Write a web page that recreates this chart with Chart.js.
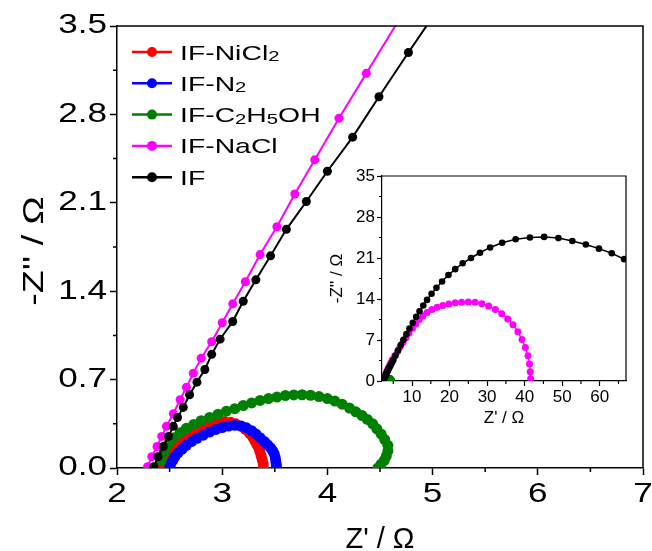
<!DOCTYPE html>
<html>
<head>
<meta charset="utf-8">
<title>Nyquist plot</title>
<script src="https://cdn.jsdelivr.net/npm/chart.js@4.4.1/dist/chart.umd.min.js"></script>
<style>
  html, body { margin: 0; padding: 0; background: #fff; }
  #wrap { position: relative; width: 652px; height: 551px; }
  #main { position: absolute; left: 0; top: 0; }
  #inset { position: absolute; left: 300px; top: 150px; }
</style>
</head>
<body>
<div id="wrap">
  <canvas id="main" width="652" height="551"></canvas>
  <canvas id="inset" width="340" height="290"></canvas>
</div>
<script>
const FONT = "'Liberation Sans', Arial, sans-serif";

// series names (_n = subscript) and colours, in legend order
const seriesNames = ['IF-NiCl_2', 'IF-N_2', 'IF-C_2H_5OH', 'IF-NaCl', 'IF'];
const seriesColors = ['#ff0000', '#0000ff', '#008000', '#ff00ff', '#000000'];

// IF-NiCl2
const nicl2X = [2.40, 2.41, 2.43, 2.46, 2.49, 2.53, 2.57, 2.62, 2.67, 2.72, 2.78, 2.84, 2.90, 2.96, 3.02, 3.08, 3.13, 3.18, 3.22, 3.26, 3.29, 3.31, 3.33, 3.35, 3.36, 3.37, 3.38, 3.39, 3.39];
const nicl2Y = [0.00, 0.03, 0.07, 0.11, 0.15, 0.18, 0.21, 0.24, 0.27, 0.295, 0.32, 0.34, 0.355, 0.365, 0.368, 0.363, 0.35, 0.33, 0.305, 0.275, 0.245, 0.215, 0.185, 0.155, 0.125, 0.095, 0.065, 0.035, 0.005];

// IF-N2
const n2X = [2.50, 2.51, 2.53, 2.55, 2.58, 2.62, 2.66, 2.71, 2.76, 2.82, 2.88, 2.94, 3.00, 3.06, 3.12, 3.18, 3.23, 3.28, 3.32, 3.36, 3.40, 3.43, 3.46, 3.48, 3.495, 3.505, 3.51, 3.515, 3.515];
const n2Y = [0.00, 0.03, 0.06, 0.09, 0.12, 0.15, 0.18, 0.21, 0.235, 0.26, 0.285, 0.305, 0.32, 0.332, 0.338, 0.333, 0.318, 0.295, 0.27, 0.24, 0.21, 0.185, 0.16, 0.135, 0.11, 0.08, 0.05, 0.025, 0.0];

// IF-C2H5OH
const c2h5ohX = [2.42, 2.45, 2.49, 2.54, 2.60, 2.66, 2.73, 2.80, 2.88, 2.96, 3.04, 3.12, 3.20, 3.28, 3.36, 3.44, 3.52, 3.60, 3.68, 3.76, 3.84, 3.92, 4.00, 4.07, 4.14, 4.21, 4.27, 4.33, 4.38, 4.43, 4.47, 4.51, 4.545, 4.575, 4.575, 4.56, 4.54, 4.51, 4.48];
const c2h5ohY = [0.06, 0.13, 0.19, 0.24, 0.28, 0.315, 0.345, 0.375, 0.40, 0.425, 0.45, 0.47, 0.495, 0.515, 0.535, 0.55, 0.562, 0.574, 0.579, 0.58, 0.576, 0.566, 0.55, 0.53, 0.505, 0.475, 0.445, 0.415, 0.385, 0.35, 0.31, 0.27, 0.225, 0.18, 0.135, 0.095, 0.06, 0.03, 0.0];

// IF-NaCl
const naclX = [2.29, 2.33, 2.38, 2.425, 2.47, 2.535, 2.60, 2.66, 2.725, 2.80, 2.90, 3.00, 3.10, 3.22, 3.36, 3.52, 3.69, 3.88, 4.11, 4.37, 4.74,
  5.4, 6.1, 6.8, 7.6, 8.4, 9.2, 10.1, 11.0, 11.9, 12.9, 14.0, 15.3, 16.7, 18.2, 19.8, 21.5, 23.2, 25.0, 26.8, 28.6, 30.4, 32.2, 33.9, 35.5, 36.9, 38.2, 39.3, 40.2, 40.9, 41.3, 41.5, 41.6];
const naclY = [0.01, 0.09, 0.17, 0.25, 0.33, 0.43, 0.54, 0.64, 0.75, 0.87, 1.00, 1.15, 1.30, 1.475, 1.69, 1.91, 2.17, 2.44, 2.77, 3.125, 3.63,
  4.3, 5.0, 5.8, 6.6, 7.4, 8.2, 9.0, 9.75, 10.5, 11.1, 11.7, 12.2, 12.6, 12.9, 13.15, 13.35, 13.45, 13.5, 13.45, 13.2, 12.8, 12.2, 11.5, 10.6, 9.6, 8.4, 7.1, 5.7, 4.3, 2.9, 1.6, 0.4];

// IF
const ifX = [2.35, 2.39, 2.44, 2.49, 2.535, 2.575, 2.63, 2.69, 2.76, 2.835, 2.90, 2.98, 3.10, 3.20, 3.32, 3.46, 3.61, 3.80, 4.00, 4.24, 4.49, 4.77, 5.04,
  5.6, 6.3, 7.0, 7.7, 8.5, 9.3, 10.2, 11.1, 12.0, 13.0, 14.0, 15.2, 16.5, 18.0, 19.7, 21.5, 23.5, 25.7, 28.1, 30.8, 34.0, 37.6, 41.4, 45.2, 49.0, 52.7, 56.3, 59.8, 63.2, 66.5, 69.8];
const ifY = [0.01, 0.09, 0.17, 0.25, 0.33, 0.40, 0.48, 0.58, 0.68, 0.78, 0.90, 1.02, 1.16, 1.32, 1.49, 1.68, 1.89, 2.11, 2.35, 2.62, 2.94, 3.29, 3.62,
  4.35, 5.25, 6.15, 7.05, 8.0, 8.95, 9.95, 10.95, 11.9, 12.9, 13.85, 14.9, 15.9, 17.0, 18.1, 19.1, 20.1, 21.0, 21.9, 22.8, 23.6, 24.2, 24.5, 24.6, 24.4, 23.9, 23.3, 22.6, 21.8, 20.8, 19.7];

// tick labels
const mainXTicks = [2, 3, 4, 5, 6, 7];
const mainXMinor = [2.5, 3.5, 4.5, 5.5, 6.5];
const mainYTicks = [0, 0.7, 1.4, 2.1, 2.8, 3.5];
const mainYMinor = [0.35, 1.05, 1.75, 2.45, 3.15];
const insetXTicks = [10, 20, 30, 40, 50, 60];
const insetXMinor = [5, 15, 25, 35, 45, 55, 65];
const insetYTicks = [0, 7, 14, 21, 28, 35];
const insetYMinor = [3.5, 10.5, 17.5, 24.5, 31.5];

const series = [
  { x: nicl2X, y: nicl2Y },
  { x: n2X, y: n2Y },
  { x: c2h5ohX, y: c2h5ohY },
  { x: naclX, y: naclY },
  { x: ifX, y: ifY }
];

function toPoints(xs, ys) {
  return xs.map((x, i) => ({ x: x, y: ys[i] }));
}

function makeDatasets(radii, lineWidth) {
  const sets = series.map((s, i) => ({
    label: seriesNames[i].replace(/_/g, ''),
    data: toPoints(s.x, s.y),
    borderColor: seriesColors[i],
    backgroundColor: seriesColors[i],
    pointBackgroundColor: seriesColors[i],
    pointBorderColor: seriesColors[i],
    pointBorderWidth: 0,
    pointRadius: radii[i],
    pointHoverRadius: radii[i],
    borderWidth: lineWidth,
    tension: 0,
    clip: 0
  }));
  // Chart.js paints the first dataset last, so reverse to keep "IF" on top
  return sets.reverse();
}

function axis(o) {
  return {
    type: 'linear',
    position: o.position,
    min: o.min,
    max: o.max,
    afterBuildTicks: s => { s.ticks = o.ticks.map(v => ({ value: v })); },
    afterFit: s => {
      if (o.position === 'left') s.width = o.size;
      else s.height = o.size;
    },
    border: { display: true, color: '#000', width: o.lw },
    grid: { drawOnChartArea: false, drawTicks: true, tickLength: o.tickLen, tickWidth: o.lw, tickColor: '#000' },
    ticks: {
      display: o.showLabels,
      color: '#000',
      font: { family: FONT, size: o.fontSize },
      padding: o.pad,
      maxRotation: 0,
      autoSkip: false,
      callback: v => o.fmt(v)
    },
    title: {
      display: !!o.title,
      text: o.title,
      color: '#000',
      font: { family: FONT, size: o.titleSize, lineHeight: 1 },
      padding: o.titlePad
    }
  };
}

// text drawn a little wider than the font, like the original figure
function drawStretched(ctx, txt, x, y, sx, align, rot) {
  ctx.save();
  ctx.translate(x, y);
  if (rot) ctx.rotate(rot);
  ctx.scale(sx, 1);
  ctx.textAlign = align;
  ctx.fillText(txt, 0, 0);
  ctx.restore();
}

// box around the plot + short minor ticks
const framePlugin = {
  id: 'frame',
  afterDraw(chart, args, o) {
    const { ctx, chartArea: a, scales: { x, y } } = chart;
    ctx.save();
    ctx.strokeStyle = '#000';
    ctx.lineWidth = o.lineWidth;
    ctx.beginPath();
    ctx.moveTo(a.left, a.top);
    ctx.lineTo(a.right, a.top);
    ctx.lineTo(a.right, a.bottom);
    o.xMinor.forEach(v => {
      const px = x.getPixelForValue(v);
      ctx.moveTo(px, a.bottom);
      ctx.lineTo(px, a.bottom + o.minorLen);
    });
    o.yMinor.forEach(v => {
      const py = y.getPixelForValue(v);
      ctx.moveTo(a.left, py);
      ctx.lineTo(a.left - o.minorLen, py);
    });
    ctx.stroke();
    ctx.restore();
  }
};

// main-axis tick labels and y title, stretched horizontally
const labelPlugin = {
  id: 'wideLabels',
  afterDraw(chart, args, o) {
    const { ctx, chartArea: a, scales: { x, y } } = chart;
    ctx.save();
    ctx.fillStyle = '#000';
    ctx.textBaseline = 'middle';
    ctx.font = o.fontSize + 'px ' + FONT;
    mainXTicks.forEach(v => drawStretched(ctx, String(v), x.getPixelForValue(v), a.bottom + o.xOffset, o.sx, 'center', 0));
    mainYTicks.forEach(v => drawStretched(ctx, v.toFixed(1), a.left - o.yOffset, y.getPixelForValue(v), o.sx, 'right', 0));
    ctx.font = o.titleSize + 'px ' + FONT;
    drawStretched(ctx, o.yTitle, o.yTitleX, o.yTitleY, o.sx, 'center', -Math.PI / 2);
    ctx.restore();
  }
};

// legend inside the plot, with chemical subscripts
const legendPlugin = {
  id: 'richLegend',
  afterDraw(chart, args, o) {
    const ctx = chart.ctx;
    ctx.save();
    seriesNames.forEach((name, i) => {
      const y = o.top + i * o.gap;
      ctx.strokeStyle = seriesColors[i];
      ctx.lineWidth = 2.5;
      ctx.beginPath();
      ctx.moveTo(o.left, y);
      ctx.lineTo(o.left + o.lineLen, y);
      ctx.stroke();
      ctx.fillStyle = seriesColors[i];
      ctx.beginPath();
      ctx.arc(o.left + o.lineLen / 2, y, o.dot, 0, Math.PI * 2);
      ctx.fill();

      let tx = o.left + o.lineLen + o.textGap;
      const base = y + o.fontSize * 0.36;
      ctx.fillStyle = '#000';
      ctx.textBaseline = 'alphabetic';
      name.split(/(_\d)/).forEach(part => {
        if (!part) return;
        const sub = part[0] === '_';
        const txt = sub ? part.slice(1) : part;
        ctx.font = (sub ? o.subSize : o.fontSize) + 'px ' + FONT;
        drawStretched(ctx, txt, tx, base + (sub ? 1.5 : 0), o.sx, 'left', 0);
        tx += ctx.measureText(txt).width * o.sx;
      });
    });
    ctx.restore();
  }
};

new Chart(document.getElementById('main'), {
  type: 'line',
  data: { datasets: makeDatasets([5.5, 5.5, 5.5, 4.5, 4.5], 2) },
  options: {
    responsive: false,
    animation: false,
    devicePixelRatio: 1,
    events: [],
    layout: { padding: { left: 0, right: 9, top: 26, bottom: 0 } },
    plugins: {
      legend: { display: false },
      tooltip: { enabled: false },
      frame: { lineWidth: 1.5, minorLen: 4, xMinor: mainXMinor, yMinor: mainYMinor },
      wideLabels: { fontSize: 27, titleSize: 29, sx: 1.3, xOffset: 26.5, yOffset: 10,
        yTitle: "-Z'' / \u03A9", yTitleX: 35, yTitleY: 251 },
      richLegend: { left: 132, top: 52, gap: 31.3, lineLen: 40, dot: 5, textGap: 8, fontSize: 21, subSize: 15, sx: 1.35 }
    },
    scales: {
      x: axis({ position: 'bottom', min: 2, max: 7, ticks: mainXTicks, size: 83, lw: 1.5, tickLen: 7, fontSize: 27, pad: 3,
        showLabels: false, fmt: v => String(v), title: "Z' / \u03A9", titleSize: 29, titlePad: { top: 0, bottom: -3 } }),
      y: axis({ position: 'left', min: 0, max: 3.5, ticks: mainYTicks, size: 117, lw: 1.5, tickLen: 7, fontSize: 27, pad: 3,
        showLabels: false, fmt: v => v.toFixed(1), title: '', titleSize: 29, titlePad: 0 })
    }
  },
  plugins: [framePlugin, labelPlugin, legendPlugin]
});

new Chart(document.getElementById('inset'), {
  type: 'line',
  data: { datasets: makeDatasets([3, 3, 3, 3.5, 3.3], 1.5) },
  options: {
    responsive: false,
    animation: false,
    devicePixelRatio: 1,
    events: [],
    layout: { padding: { left: 0, right: 14, top: 26, bottom: 0 } },
    plugins: {
      legend: { display: false },
      tooltip: { enabled: false },
      frame: { lineWidth: 1.2, minorLen: 3, xMinor: insetXMinor, yMinor: insetYMinor }
    },
    scales: {
      x: axis({ position: 'bottom', min: 2, max: 67, ticks: insetXTicks, size: 59, lw: 1.2, tickLen: 5, fontSize: 17, pad: 1,
        showLabels: true, fmt: v => String(v), title: "Z' / \u03A9", titleSize: 17, titlePad: { top: 0, bottom: 13.5 } }),
      y: axis({ position: 'left', min: 0, max: 35, ticks: insetYTicks, size: 82, lw: 1.2, tickLen: 5, fontSize: 17, pad: 2,
        showLabels: true, fmt: v => String(v), title: "-Z'' / \u03A9", titleSize: 17, titlePad: { top: 28.5, bottom: 0 } })
    }
  },
  plugins: [framePlugin]
});
</script>
</body>
</html>
